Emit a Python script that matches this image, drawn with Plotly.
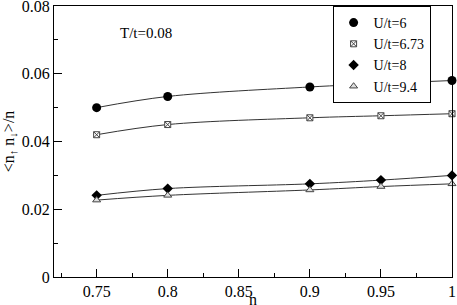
import plotly.graph_objects as go

n_vals = [0.75, 0.8, 0.9, 0.95, 1.0]
u6 = [0.0500, 0.0533, 0.0561, 0.0571, 0.0580]
u673 = [0.0420, 0.0450, 0.0470, 0.0476, 0.0482]
u8 = [0.0241, 0.0261, 0.0275, 0.0286, 0.0300]
u94 = [0.0227, 0.0241, 0.0257, 0.0267, 0.0275]
names = ["U/t=6", "U/t=6.73", "U/t=8", "U/t=9.4"]

font = "Times New Roman"
fig = go.Figure()
styles = [
    dict(symbol="circle", size=9, color="black", line=dict(color="black", width=0)),
    dict(symbol="square-x", size=6, color="white", line=dict(color="#444", width=1)),
    dict(symbol="diamond", size=8, color="black", line=dict(color="black", width=0)),
    dict(symbol="triangle-up", size=7, color="#ddd", line=dict(color="#444", width=1)),
]
for ys in [u6, u673, u8, u94]:
    fig.add_trace(go.Scatter(x=n_vals, y=ys, mode="lines", showlegend=False,
                             line=dict(color="#333", width=1, shape="spline"),
                             hoverinfo="skip"))
for ys, nm, st in zip([u6, u673, u8, u94], names, styles):
    fig.add_trace(go.Scatter(x=n_vals, y=ys, name=nm, mode="markers", marker=st,
                             cliponaxis=False))

fig.add_annotation(x=0.765, y=0.072, xref="x", yref="y", text="T/t=0.08",
                   showarrow=False, xanchor="left", font=dict(family=font, size=15, color="black"))
fig.add_annotation(x=0.5, y=-0.117, xref="paper", yref="paper", text="n",
                   showarrow=False, yanchor="bottom", borderpad=0,
                   font=dict(family=font, size=16, color="black"))

axis_common = dict(showgrid=False, zeroline=False, showline=True, linecolor="black",
                   linewidth=1, mirror=True, ticks="inside", ticklen=8, tickcolor="black",
                   ticklabeloverflow="allow", automargin=False,
                   tickfont=dict(family=font, size=16, color="black"))
fig.update_xaxes(range=[0.72, 1.0], tickvals=[0.75, 0.8, 0.85, 0.9, 0.95, 1.0],
                 ticktext=["0.75", "0.8", "0.85", "0.9", "0.95", "1"],
                 minor=dict(dtick=0.025, tick0=0.725, ticks="inside", ticklen=4, tickcolor="black"),
                 **axis_common)
fig.update_yaxes(range=[0, 0.08], tickvals=[0, 0.02, 0.04, 0.06, 0.08],
                 ticktext=["0", "0.02", "0.04", "0.06", "0.08"],
                 minor=dict(dtick=0.01, ticks="inside", ticklen=4, tickcolor="black"),
                 title=dict(text="&lt;n<sub>↑</sub> n<sub>↓</sub>&gt;/n",
                            font=dict(family=font, size=16, color="black"), standoff=4),
                 **axis_common)
fig.update_layout(width=457, height=305, margin=dict(l=54, r=5, t=6, b=28, autoexpand=False),
                  plot_bgcolor="white", paper_bgcolor="white",
                  legend=dict(x=0.70, y=1.0, xanchor="left", yanchor="top",
                              bordercolor="black", borderwidth=1, bgcolor="white",
                              font=dict(family=font, size=14, color="black"),
                              tracegroupgap=0, itemwidth=30),
                  showlegend=True)
fig.write_html("out.html", config={"displayModeBar": False},
               post_script="document.body.style.margin='0';")
